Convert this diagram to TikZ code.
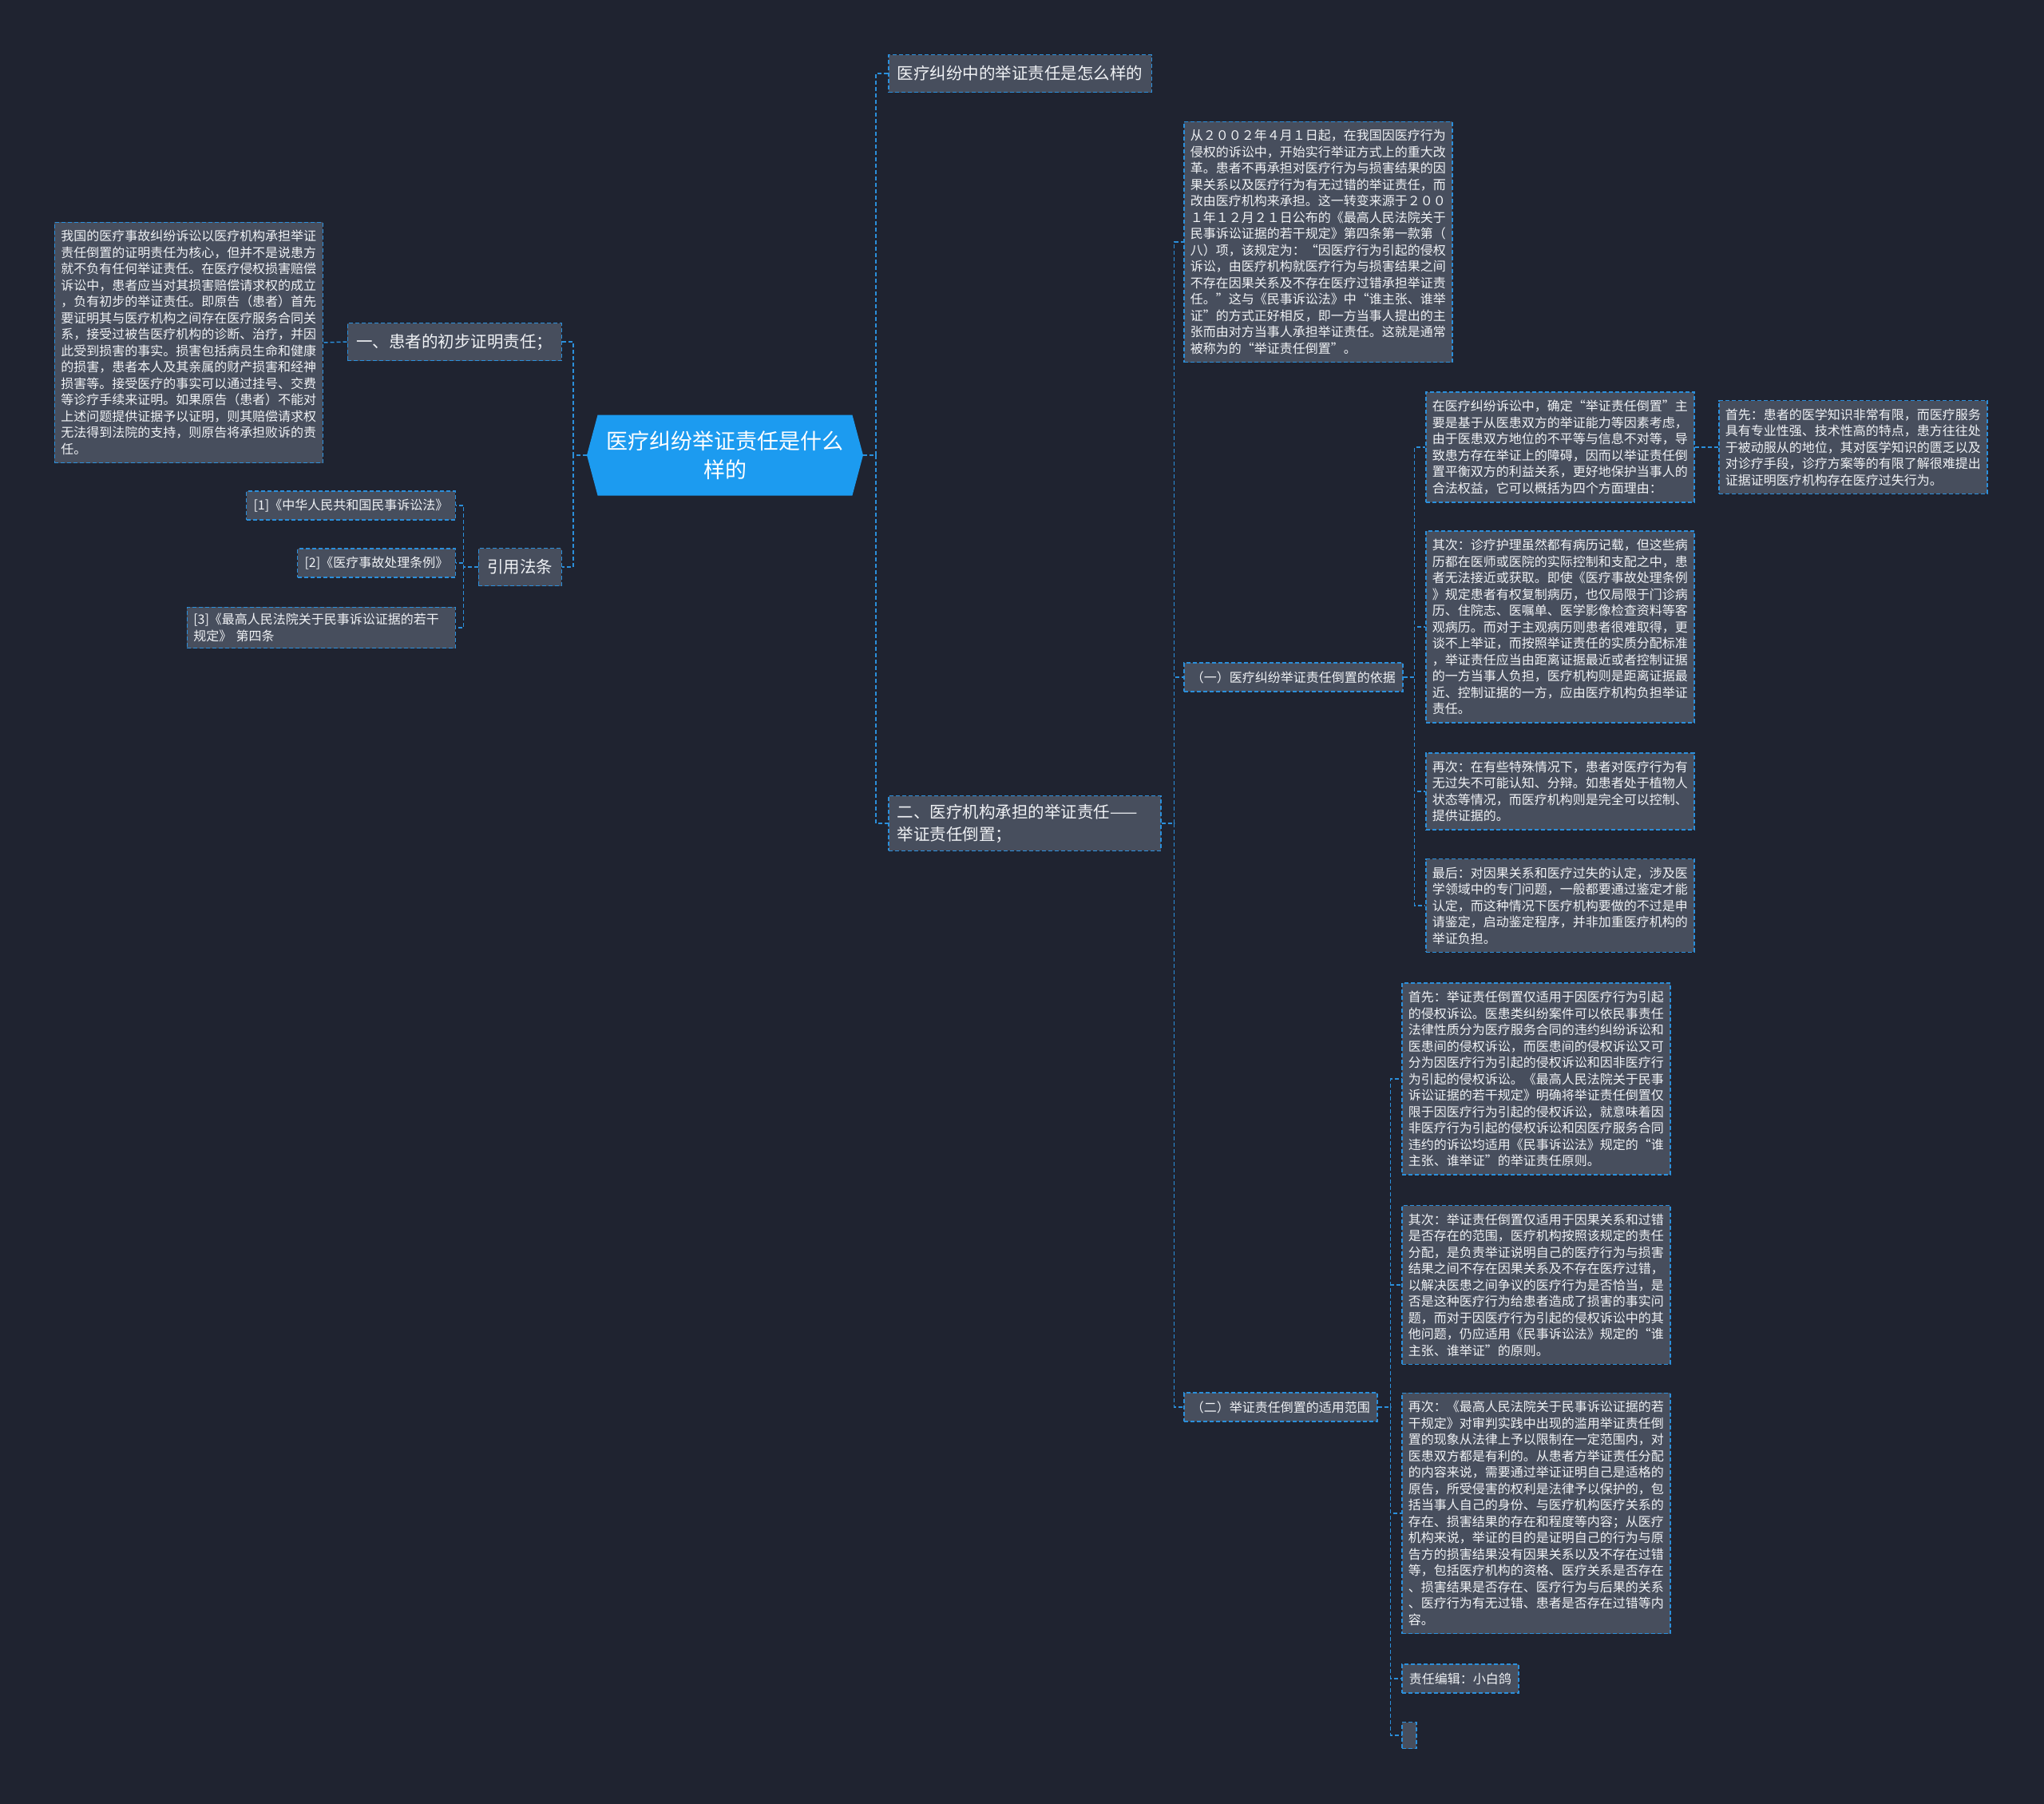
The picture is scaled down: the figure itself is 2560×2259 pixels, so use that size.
\documentclass[tikz,border=0pt]{standalone}
\usepackage{fontspec}
\setmainfont{Noto Sans CJK SC}
\usepackage{tikz}
\usetikzlibrary{backgrounds,shapes.symbols}
\definecolor{CanvasDark}{HTML}{1F2330}
\definecolor{PanelGray}{HTML}{474E5D}
\definecolor{LineBlue}{HTML}{2B8FDB}
\definecolor{RootBlue}{HTML}{1C9BF0}
\definecolor{TextLight}{HTML}{F0F2F5}
\tikzset{
  mapRoot/.style={signal,signal to=east and west,signal pointer angle=150,fill=RootBlue,text=white,
    font=\fontsize{27}{36}\selectfont,align=center,minimum width=346pt,minimum height=101pt,inner sep=0pt},
  mapTopic/.style={rectangle,draw=LineBlue,line width=1.5pt,dash pattern=on 5pt off 3pt,fill=PanelGray,
    text=TextLight,font=\fontsize{20.5}{28}\selectfont,align=left,inner xsep=11pt,inner ysep=10pt,minimum height=47pt},
  mapLeaf/.style={mapTopic,font=\fontsize{16}{20.5}\selectfont,inner xsep=9pt,inner ysep=8pt,minimum height=36pt},
  mapText/.style={mapLeaf,text width=320pt,inner xsep=8pt,inner ysep=10pt},
  mapLink/.style={draw=LineBlue,line width=1.5pt,dash pattern=on 5pt off 3pt}
}

\begin{document}
\begin{tikzpicture}[x=1pt,y=-1pt]
  \useasboundingbox (0,0) rectangle (2560,2259);
  % centre
  \node[mapRoot] (root) at (908,570) {医疗纠纷举证责任是什么\\样的};
  % right side
  \node[mapTopic,anchor=west] (ask) at (1112,92) {医疗纠纷中的举证责任是怎么样的};
  \node[mapTopic,anchor=west,text width=319pt] (inst) at (1112,1031) {二、医疗机构承担的举证责任——\\举证责任倒置；};
  \node[mapText,anchor=west] (hist) at (1482,303) {从２００２年４月１日起，在我国因医疗行为\\
    侵权的诉讼中，开始实行举证方式上的重大改\\革。患者不再承担对医疗行为与损害结果的因\\
    果关系以及医疗行为有无过错的举证责任，而\\改由医疗机构来承担。这一转变来源于２００\\
    １年１２月２１日公布的《最高人民法院关于\\民事诉讼证据的若干规定》第四条第一款第（\\
    八）项，该规定为：“因医疗行为引起的侵权\\诉讼，由医疗机构就医疗行为与损害结果之间\\
    不存在因果关系及不存在医疗过错承担举证责\\任。”这与《民事诉讼法》中“谁主张、谁举\\
    证”的方式正好相反，即一方当事人提出的主\\张而由对方当事人承担举证责任。这就是通常\\
    被称为的“举证责任倒置”。};
  \node[mapLeaf,anchor=west] (basis) at (1482,848) {（一）医疗纠纷举证责任倒置的依据};
  \node[mapLeaf,anchor=west] (scope) at (1482,1762) {（二）举证责任倒置的适用范围};
  \node[mapText,anchor=west] (why) at (1785,560) {在医疗纠纷诉讼中，确定“举证责任倒置”主\\
    要是基于从医患双方的举证能力等因素考虑，\\由于医患双方地位的不平等与信息不对等，导\\
    致患方存在举证上的障碍，因而以举证责任倒\\置平衡双方的利益关系，更好地保护当事人的\\
    合法权益，它可以概括为四个方面理由：};
  \node[mapText,anchor=west] (why1) at (2152,560) {首先：患者的医学知识非常有限，而医疗服务\\
    具有专业性强、技术性高的特点，患方往往处\\于被动服从的地位，其对医学知识的匮乏以及\\
    对诊疗手段，诊疗方案等的有限了解很难提出\\证据证明医疗机构存在医疗过失行为。};
  \node[mapText,anchor=west] (why2) at (1785,785) {其次：诊疗护理虽然都有病历记载，但这些病\\
    历都在医师或医院的实际控制和支配之中，患\\者无法接近或获取。即使《医疗事故处理条例\\
    》规定患者有权复制病历，也仅局限于门诊病\\历、住院志、医嘱单、医学影像检查资料等客\\
    观病历。而对于主观病历则患者很难取得，更\\谈不上举证，而按照举证责任的实质分配标准\\
    ，举证责任应当由距离证据最近或者控制证据\\的一方当事人负担，医疗机构则是距离证据最\\
    近、控制证据的一方，应由医疗机构负担举证\\责任。};
  \node[mapText,anchor=west] (why3) at (1785,991) {再次：在有些特殊情况下，患者对医疗行为有\\
    无过失不可能认知、分辩。如患者处于植物人\\状态等情况，而医疗机构则是完全可以控制、\\
    提供证据的。};
  \node[mapText,anchor=west] (why4) at (1785,1134) {最后：对因果关系和医疗过失的认定，涉及医\\
    学领域中的专门问题，一般都要通过鉴定才能\\认定，而这种情况下医疗机构要做的不过是申\\
    请鉴定，启动鉴定程序，并非加重医疗机构的\\举证负担。};
  \node[mapText,anchor=west] (lim1) at (1755,1351) {首先：举证责任倒置仅适用于因医疗行为引起\\
    的侵权诉讼。医患类纠纷案件可以依民事责任\\法律性质分为医疗服务合同的违约纠纷诉讼和\\
    医患间的侵权诉讼，而医患间的侵权诉讼又可\\分为因医疗行为引起的侵权诉讼和因非医疗行\\
    为引起的侵权诉讼。《最高人民法院关于民事\\诉讼证据的若干规定》明确将举证责任倒置仅\\
    限于因医疗行为引起的侵权诉讼，就意味着因\\非医疗行为引起的侵权诉讼和因医疗服务合同\\
    违约的诉讼均适用《民事诉讼法》规定的“谁\\主张、谁举证”的举证责任原则。};
  \node[mapText,anchor=west] (lim2) at (1755,1609) {其次：举证责任倒置仅适用于因果关系和过错\\
    是否存在的范围，医疗机构按照该规定的责任\\分配，是负责举证说明自己的医疗行为与损害\\
    结果之间不存在因果关系及不存在医疗过错，\\以解决医患之间争议的医疗行为是否恰当，是\\
    否是这种医疗行为给患者造成了损害的事实问\\题，而对于因医疗行为引起的侵权诉讼中的其\\
    他问题，仍应适用《民事诉讼法》规定的“谁\\主张、谁举证”的原则。};
  \node[mapText,anchor=west] (lim3) at (1755,1895) {再次：《最高人民法院关于民事诉讼证据的若\\
    干规定》对审判实践中出现的滥用举证责任倒\\置的现象从法律上予以限制在一定范围内，对\\
    医患双方都是有利的。从患者方举证责任分配\\的内容来说，需要通过举证证明自己是适格的\\
    原告，所受侵害的权利是法律予以保护的，包\\括当事人自己的身份、与医疗机构医疗关系的\\
    存在、损害结果的存在和程度等内容；从医疗\\机构来说，举证的目的是证明自己的行为与原\\
    告方的损害结果没有因果关系以及不存在过错\\等，包括医疗机构的资格、医疗关系是否存在\\
    、损害结果是否存在、医疗行为与后果的关系\\、医疗行为有无过错、患者是否存在过错等内\\
    容。};
  \node[mapLeaf,anchor=west] (editor) at (1755,2102) {责任编辑：小白鸽};
  \node[mapLeaf,anchor=west,minimum width=18pt,minimum height=33pt,inner sep=0pt] (blank) at (1755,2173) {};
  % left side
  \node[mapTopic,anchor=east] (patient) at (704,428) {一、患者的初步证明责任；};
  \node[mapTopic,anchor=east] (laws) at (704,710) {引用法条};
  \node[mapText,anchor=east] (prelim) at (405,429) {我国的医疗事故纠纷诉讼以医疗机构承担举证\\
    责任倒置的证明责任为核心，但并不是说患方\\就不负有任何举证责任。在医疗侵权损害赔偿\\
    诉讼中，患者应当对其损害赔偿请求权的成立\\，负有初步的举证责任。即原告（患者）首先\\
    要证明其与医疗机构之间存在医疗服务合同关\\系，接受过被告医疗机构的诊断、治疗，并因\\
    此受到损害的事实。损害包括病员生命和健康\\的损害，患者本人及其亲属的财产损害和经神\\
    损害等。接受医疗的事实可以通过挂号、交费\\等诊疗手续来证明。如果原告（患者）不能对\\
    上述问题提供证据予以证明，则其赔偿请求权\\无法得到法院的支持，则原告将承担败诉的责\\
    任。};
  \node[mapLeaf,anchor=east] (law1) at (571,633) {[1]《中华人民共和国民事诉讼法》};
  \node[mapLeaf,anchor=east] (law2) at (571,705) {[2]《医疗事故处理条例》};
  \node[mapText,anchor=east,inner ysep=8pt] (law3) at (571,786) {[3]《最高人民法院关于民事诉讼证据的若干\\规定》 第四条};
  % connectors
  \begin{scope}[on background layer]
    \fill[CanvasDark] (0,0) rectangle (2560,2259);
    \foreach \c in {ask,inst}{\draw[mapLink] (root.east) -- ++(16,0) |- (\c.west);}
    \foreach \c in {patient,laws}{\draw[mapLink] (root.west) -- ++(-17,0) |- (\c.east);}
    \foreach \c in {hist,basis,scope}{\draw[mapLink] (inst.east) -- ++(16,0) |- (\c.west);}
    \foreach \c in {why,why2,why3,why4}{\draw[mapLink] (basis.east) -- ++(14,0) |- (\c.west);}
    \foreach \c in {lim1,lim2,lim3,editor,blank}{\draw[mapLink] (scope.east) -- ++(16,0) |- (\c.west);}
    \foreach \c in {law1,law2,law3}{\draw[mapLink] (laws.west) -- ++(-18,0) |- (\c.east);}
    \draw[mapLink] (why.east) -- (why1.west);
    \draw[mapLink] (patient.west) -- (prelim.east);
  \end{scope}
\end{tikzpicture}
\end{document}
